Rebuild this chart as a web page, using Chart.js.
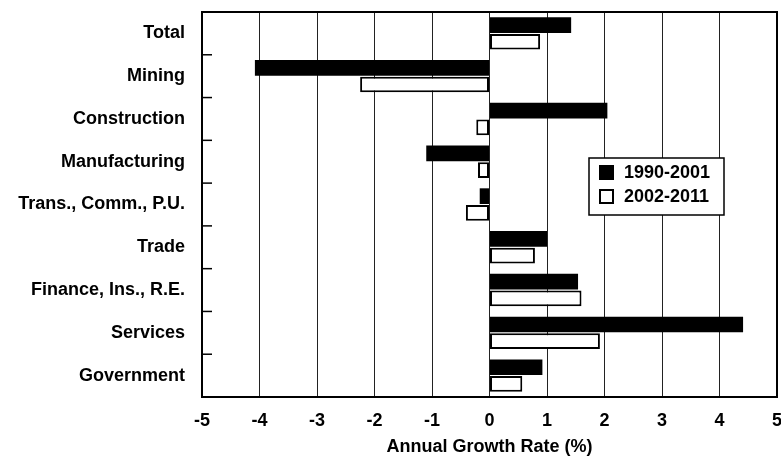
<!DOCTYPE html>
<html>
<head>
<meta charset="utf-8">
<script src="https://cdn.jsdelivr.net/npm/chart.js@4/dist/chart.umd.min.js"></script>
<style>
html,body{margin:0;padding:0;background:#fff;}
#wrap{width:781px;height:458px;position:relative;}
</style>
</head>
<body>
<div id="wrap"><canvas id="c" width="781" height="458"></canvas></div>
<script>
const categories = ["Total","Mining","Construction","Manufacturing","Trans., Comm., P.U.","Trade","Finance, Ins., R.E.","Services","Government"];
const series1990 = [1.42, -4.08, 2.05, -1.10, -0.17, 1.00, 1.54, 4.41, 0.92];
const series2002 = [0.88, -2.25, -0.23, -0.20, -0.41, 0.79, 1.60, 1.92, 0.57];
const seriesLabels = ["1990-2001", "2002-2011"];
const xMin = -5, xMax = 5;
const xTitle = "Annual Growth Rate (%)";

const FONT = "'Liberation Sans', Arial, sans-serif";

const framePlugin = {
  id: 'frame',
  afterDatasetsDraw(chart) {
    const ctx = chart.ctx, a = chart.chartArea, y = chart.scales.y;
    ctx.save();
    ctx.strokeStyle = '#000';
    ctx.lineWidth = 1.5;
    for (let i = 1; i < categories.length; i++) {
      const py = (y.getPixelForValue(i - 1) + y.getPixelForValue(i)) / 2;
      ctx.beginPath();
      ctx.moveTo(a.left, py);
      ctx.lineTo(a.left + 10, py);
      ctx.stroke();
    }
    ctx.lineWidth = 2;
    ctx.strokeRect(a.left, a.top, a.right - a.left, a.bottom - a.top);
    const lx = 589, ly = 158, lw = 135, lh = 57;
    ctx.fillStyle = '#fff';
    ctx.fillRect(lx, ly, lw, lh);
    ctx.lineWidth = 1.5;
    ctx.strokeRect(lx, ly, lw, lh);
    const ds = chart.data.datasets;
    ctx.font = "bold 18px " + FONT;
    ctx.textBaseline = 'middle';
    ctx.textAlign = 'left';
    for (let i = 0; i < ds.length; i++) {
      const cy = ly + 14.5 + i * 24;
      ctx.fillStyle = ds[i].backgroundColor;
      ctx.fillRect(lx + 11, cy - 6.5, 13, 13);
      ctx.lineWidth = 2;
      ctx.strokeStyle = '#000';
      ctx.strokeRect(lx + 11, cy - 6.5, 13, 13);
      ctx.fillStyle = '#000';
      ctx.fillText(ds[i].label, lx + 35, cy + 1);
    }
    ctx.restore();
  }
};

new Chart(document.getElementById('c'), {
  type: 'bar',
  data: {
    labels: categories,
    datasets: [
      { label: seriesLabels[0], data: series1990, backgroundColor: '#000', borderColor: '#000', borderWidth: 0,
        categoryPercentage: 0.78, barPercentage: 0.94 },
      { label: seriesLabels[1], data: series2002, backgroundColor: '#fff', borderColor: '#000', borderWidth: 2,
        borderSkipped: false, categoryPercentage: 0.78, barPercentage: 0.94 }
    ]
  },
  options: {
    indexAxis: 'y',
    responsive: false,
    animation: false,
    devicePixelRatio: 1,
    layout: { padding: { top: 12, right: 4, left: 0, bottom: 0 } },
    plugins: { legend: { display: false }, tooltip: { enabled: false }, title: { display: false } },
    scales: {
      x: {
        min: xMin, max: xMax,
        ticks: { stepSize: 1, color: '#000', font: { family: FONT, size: 18, weight: 'bold' }, padding: 13, maxRotation: 0 },
        grid: { color: '#222', lineWidth: 1, drawTicks: false },
        border: { display: false },
        title: { display: true, text: xTitle, color: '#000', font: { family: FONT, size: 18, weight: 'bold' }, padding: { top: 12, bottom: 0 } },
        afterFit(s) { s.height = 61; s.paddingLeft = 0; s.paddingRight = 0; }
      },
      y: {
        ticks: { color: '#000', font: { family: FONT, size: 18, weight: 'bold' }, padding: 9 },
        grid: { display: false },
        border: { display: false },
        afterFit(s) { s.width = 202; s.paddingTop = 0; s.paddingBottom = 0; }
      }
    }
  },
  plugins: [framePlugin]
});
</script>
</body>
</html>
